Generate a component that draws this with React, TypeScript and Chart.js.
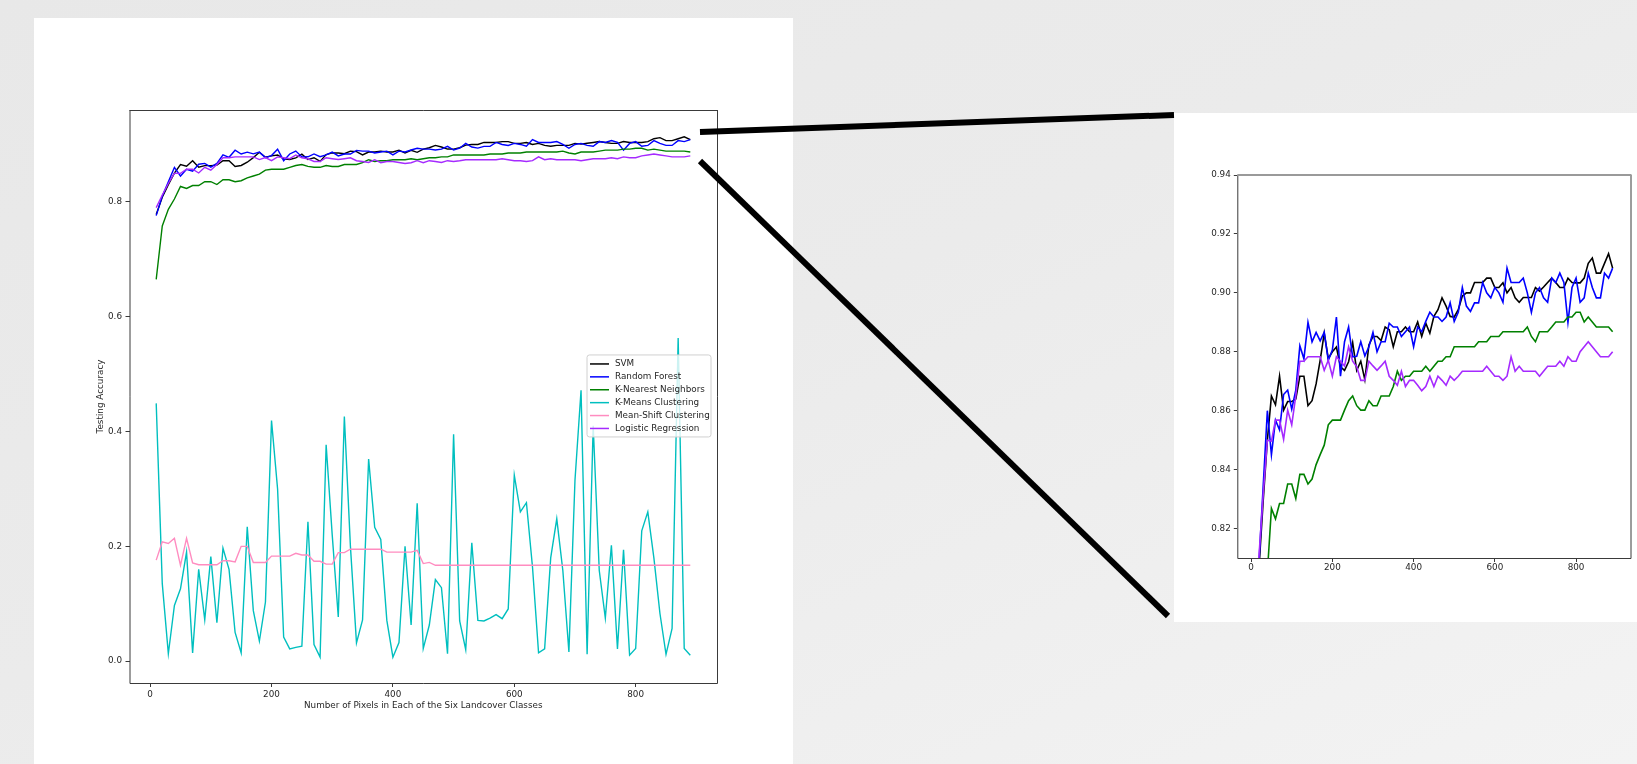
import React, { useEffect, useRef } from 'react';
import { Chart, registerables } from 'chart.js';

Chart.register(...registerables);

const pixelCounts = [
  10, 20, 30, 40, 50, 60, 70, 80, 90, 100, 110, 120, 130, 140, 150, 160, 170, 180, 190, 200,
  210, 220, 230, 240, 250, 260, 270, 280, 290, 300, 310, 320, 330, 340, 350, 360, 370, 380, 390, 400,
  410, 420, 430, 440, 450, 460, 470, 480, 490, 500, 510, 520, 530, 540, 550, 560, 570, 580, 590, 600,
  610, 620, 630, 640, 650, 660, 670, 680, 690, 700, 710, 720, 730, 740, 750, 760, 770, 780, 790, 800,
  810, 820, 830, 840, 850, 860, 870, 880, 890,
];

const svmAcc = [
  0.778, 0.808, 0.830, 0.850, 0.865, 0.862, 0.8717, 0.8602, 0.8631, 0.8631, 0.864, 0.8717, 0.8717, 0.8617, 0.8634, 0.8691, 0.8771, 0.8863, 0.8777, 0.880,
  0.8816, 0.8749, 0.8737, 0.8766, 0.8831, 0.8737, 0.8768, 0.8705, 0.8823, 0.8852, 0.8852, 0.8838, 0.8884, 0.8875, 0.8817, 0.8868, 0.8868, 0.8884, 0.8868, 0.8868,
  0.8901, 0.8852, 0.8897, 0.8863, 0.892, 0.8943, 0.8983, 0.8955, 0.892, 0.8918, 0.8943, 0.8989, 0.900, 0.900, 0.9035, 0.9035, 0.9035, 0.905, 0.905, 0.9018,
  0.9018, 0.9034, 0.900, 0.9018, 0.8983, 0.8968, 0.8984, 0.8984, 0.8984, 0.9018, 0.9006, 0.902, 0.9035, 0.905, 0.9035, 0.9018, 0.9018, 0.905, 0.9035, 0.9034,
  0.9034, 0.905, 0.910, 0.9118, 0.9067, 0.9067, 0.910, 0.9133, 0.9084,
];

const randomForestAcc = [
  0.776, 0.810, 0.835, 0.860, 0.845, 0.8568, 0.8535, 0.8655, 0.867, 0.8605, 0.867, 0.882, 0.8776, 0.890, 0.8834, 0.8866, 0.8837, 0.8866, 0.8771, 0.8806,
  0.8918, 0.8717, 0.8834, 0.8884, 0.8783, 0.8785, 0.8834, 0.8786, 0.8817, 0.8866, 0.880, 0.8834, 0.8834, 0.8897, 0.8884, 0.8884, 0.8852, 0.8868, 0.8884, 0.8817,
  0.8884, 0.8868, 0.8903, 0.8934, 0.8918, 0.8918, 0.8903, 0.8918, 0.8966, 0.8903, 0.8934, 0.9018, 0.8955, 0.8937, 0.8966, 0.8966, 0.9035, 0.900, 0.8983, 0.9018,
  0.900, 0.8968, 0.9084, 0.9035, 0.9035, 0.9035, 0.905, 0.900, 0.8934, 0.900, 0.9018, 0.8983, 0.8968, 0.905, 0.9035, 0.9067, 0.9035, 0.890, 0.9018, 0.905,
  0.8968, 0.8983, 0.9067, 0.9018, 0.8983, 0.8983, 0.9067, 0.905, 0.9084,
];

const knnAcc = [
  0.665, 0.758, 0.787, 0.805, 0.8268, 0.8233, 0.8285, 0.8285, 0.8351, 0.8351, 0.8302, 0.8384, 0.8384, 0.8351, 0.8368, 0.8417, 0.8451, 0.8483, 0.8552, 0.8568,
  0.8568, 0.8568, 0.8602, 0.8634, 0.865, 0.8617, 0.8602, 0.8602, 0.8634, 0.8617, 0.8617, 0.865, 0.865, 0.865, 0.8682, 0.8734, 0.8703, 0.8717, 0.8717, 0.8734,
  0.8734, 0.8734, 0.8751, 0.8734, 0.8751, 0.8768, 0.8768, 0.8783, 0.8783, 0.8817, 0.8817, 0.8817, 0.8817, 0.8817, 0.8817, 0.8834, 0.8834, 0.8834, 0.8852, 0.8852,
  0.8852, 0.8868, 0.8868, 0.8868, 0.8868, 0.8868, 0.8868, 0.8884, 0.8852, 0.8834, 0.8868, 0.8868, 0.8868, 0.8884, 0.8901, 0.8901, 0.8901, 0.8918, 0.8918, 0.8934,
  0.8934, 0.8901, 0.8918, 0.8901, 0.8884, 0.8884, 0.8884, 0.8884, 0.8868,
];

const kMeansAcc = [
  0.449, 0.135, 0.013, 0.097, 0.126, 0.190, 0.0145, 0.160, 0.072, 0.182, 0.067, 0.197, 0.160, 0.050, 0.0145, 0.234, 0.088, 0.035, 0.103, 0.419,
  0.300, 0.042, 0.0215, 0.024, 0.026, 0.243, 0.029, 0.007, 0.377, 0.220, 0.077, 0.426, 0.200, 0.032, 0.072, 0.352, 0.233, 0.212, 0.071, 0.007,
  0.0325, 0.200, 0.063, 0.275, 0.022, 0.063, 0.142, 0.128, 0.013, 0.395, 0.070, 0.020, 0.206, 0.071, 0.070, 0.075, 0.081, 0.074, 0.091, 0.324,
  0.260, 0.276, 0.164, 0.0145, 0.0215, 0.180, 0.248, 0.158, 0.016, 0.315, 0.472, 0.012, 0.410, 0.158, 0.075, 0.202, 0.0215, 0.194, 0.0105, 0.022,
  0.227, 0.260, 0.180, 0.083, 0.012, 0.057, 0.563, 0.022, 0.0105,
];

const meanShiftAcc = [
  0.176, 0.208, 0.205, 0.214, 0.167, 0.214, 0.171, 0.168, 0.168, 0.168, 0.168, 0.175, 0.175, 0.173, 0.200, 0.200, 0.172, 0.172, 0.172, 0.183,
  0.183, 0.183, 0.183, 0.188, 0.185, 0.185, 0.174, 0.174, 0.169, 0.169, 0.189, 0.189, 0.195, 0.195, 0.195, 0.195, 0.195, 0.195, 0.190, 0.190,
  0.190, 0.190, 0.190, 0.193, 0.170, 0.172, 0.167, 0.167, 0.167, 0.167, 0.167, 0.167, 0.167, 0.167, 0.167, 0.167, 0.167, 0.167, 0.167, 0.167,
  0.167, 0.167, 0.167, 0.167, 0.167, 0.167, 0.167, 0.167, 0.167, 0.167, 0.167, 0.167, 0.167, 0.167, 0.167, 0.167, 0.167, 0.167, 0.167, 0.167,
  0.167, 0.167, 0.167, 0.167, 0.167, 0.167, 0.167, 0.167, 0.167,
];

const logisticAcc = [
  0.790, 0.812, 0.832, 0.850, 0.8497, 0.8568, 0.8568, 0.8503, 0.8602, 0.8552, 0.865, 0.8768, 0.8768, 0.8783, 0.8783, 0.8783, 0.8783, 0.8737, 0.8771, 0.8717,
  0.8783, 0.8768, 0.8752, 0.8817, 0.8768, 0.8749, 0.8703, 0.8703, 0.8768, 0.8752, 0.8737, 0.8752, 0.8768, 0.8717, 0.8703, 0.8686, 0.8734, 0.8682, 0.8703, 0.8703,
  0.8686, 0.8668, 0.8682, 0.8717, 0.8682, 0.8717, 0.8703, 0.8686, 0.8717, 0.8703, 0.8717, 0.8734, 0.8734, 0.8734, 0.8734, 0.8734, 0.8734, 0.8751, 0.8734, 0.8717,
  0.8717, 0.8703, 0.8717, 0.8783, 0.8734, 0.8751, 0.8734, 0.8734, 0.8734, 0.8734, 0.8717, 0.8734, 0.8751, 0.8751, 0.8751, 0.8768, 0.8751, 0.8783, 0.8768, 0.8768,
  0.880, 0.8817, 0.8834, 0.8817, 0.880, 0.8783, 0.8783, 0.8783, 0.880,
];

const seriesNames = [
  'SVM',
  'Random Forest',
  'K-Nearest Neighbors',
  'K-Means Clustering',
  'Mean-Shift Clustering',
  'Logistic Regression',
];
const seriesValues = [svmAcc, randomForestAcc, knnAcc, kMeansAcc, meanShiftAcc, logisticAcc];
const seriesColors = ['#000000', '#0000ff', '#008000', '#00bfbf', '#ff8cc0', '#a52aff'];
const insetSeriesIndex = [0, 1, 2, 5];

const xTicks = [0, 200, 400, 600, 800];
const mainYTicks = [0.0, 0.2, 0.4, 0.6, 0.8];
const insetYTicks = [0.82, 0.84, 0.86, 0.88, 0.9, 0.92, 0.94];

const xLabel = 'Number of Pixels in Each of the Six Landcover Classes';
const yLabel = 'Testing Accuracy';

const FONT_FAMILY = '"DejaVu Sans", sans-serif';
const TEXT_COLOR = '#262626';
const FONT = { family: FONT_FAMILY, size: 8.8 };

function makeDataset(i: number, width: number) {
  return {
    label: seriesNames[i],
    data: pixelCounts.map((x, k) => ({ x, y: seriesValues[i][k] })),
    borderColor: seriesColors[i],
    backgroundColor: seriesColors[i],
    borderWidth: width,
    pointRadius: 0,
    tension: 0,
    fill: false,
    order: 10 - i,
  };
}

const framePlugin = (topColor: string, topWidth: number) => ({
  id: 'frame',
  afterDatasetsDraw(chart: any) {
    const { ctx, chartArea } = chart;
    const { left, right, top, bottom } = chartArea;
    ctx.save();
    ctx.strokeStyle = '#3a3a3a';
    ctx.lineWidth = 1;
    ctx.beginPath();
    ctx.moveTo(left + 0.5, top);
    ctx.lineTo(left + 0.5, bottom + 0.5);
    ctx.lineTo(right + 0.5, bottom + 0.5);
    ctx.lineTo(right + 0.5, top);
    ctx.stroke();
    ctx.strokeStyle = topColor;
    ctx.lineWidth = topWidth;
    ctx.beginPath();
    ctx.moveTo(left, top + (topWidth === 1 ? 0.5 : 0));
    ctx.lineTo(right + 1, top + (topWidth === 1 ? 0.5 : 0));
    ctx.stroke();
    ctx.restore();
  },
});

const legendPlugin = {
  id: 'boxLegend',
  afterDraw(chart: any) {
    const { ctx, chartArea } = chart;
    const w = 124;
    const h = 82;
    const x0 = chartArea.right - 6 - w;
    const y0 = chartArea.top + (chartArea.bottom - chartArea.top) * 0.4275;
    ctx.save();
    ctx.beginPath();
    const r = 2.5;
    ctx.moveTo(x0 + r, y0);
    ctx.lineTo(x0 + w - r, y0);
    ctx.quadraticCurveTo(x0 + w, y0, x0 + w, y0 + r);
    ctx.lineTo(x0 + w, y0 + h - r);
    ctx.quadraticCurveTo(x0 + w, y0 + h, x0 + w - r, y0 + h);
    ctx.lineTo(x0 + r, y0 + h);
    ctx.quadraticCurveTo(x0, y0 + h, x0, y0 + h - r);
    ctx.lineTo(x0, y0 + r);
    ctx.quadraticCurveTo(x0, y0, x0 + r, y0);
    ctx.closePath();
    ctx.fillStyle = 'rgba(255,255,255,0.8)';
    ctx.fill();
    ctx.strokeStyle = '#d0d0d0';
    ctx.lineWidth = 1;
    ctx.stroke();
    ctx.font = `8.8px ${FONT_FAMILY}`;
    ctx.textBaseline = 'middle';
    ctx.textAlign = 'left';
    chart.data.datasets.forEach((ds: any, i: number) => {
      const cy = y0 + 9 + i * 12.9;
      ctx.strokeStyle = ds.borderColor;
      ctx.lineWidth = 1.5;
      ctx.beginPath();
      ctx.moveTo(x0 + 3, cy);
      ctx.lineTo(x0 + 22, cy);
      ctx.stroke();
      ctx.fillStyle = TEXT_COLOR;
      ctx.fillText(ds.label, x0 + 28, cy);
    });
    ctx.restore();
  },
};

function MainChart() {
  const ref = useRef<HTMLCanvasElement | null>(null);
  useEffect(() => {
    if (!ref.current) return;
    const chart = new Chart(ref.current, {
      type: 'line',
      data: { datasets: seriesNames.map((_, i) => makeDataset(i, 1.4)) as any },
      options: {
        responsive: false,
        animation: false,
        layout: { padding: { left: 58, top: 92, right: 76, bottom: 50 } },
        plugins: { legend: { display: false }, tooltip: { enabled: false } },
        scales: {
          x: {
            type: 'linear',
            min: -34,
            max: 934,
            afterBuildTicks: (s: any) => {
              s.ticks = xTicks.map((v) => ({ value: v }));
            },
            afterFit: (s: any) => {
              s.height = 31;
            },
            ticks: {
              font: FONT,
              color: TEXT_COLOR,
              padding: 2,
              maxRotation: 0,
              autoSkip: false,
              callback: (v: any) => String(v),
            },
            grid: { drawOnChartArea: false, drawTicks: true, tickLength: 4, color: '#3a3a3a' },
            border: { display: false },
            title: {
              display: true,
              text: xLabel,
              font: FONT,
              color: TEXT_COLOR,
              padding: { top: 0, bottom: 3.2 },
            },
          },
          y: {
            type: 'linear',
            min: -0.038,
            max: 0.96,
            afterBuildTicks: (s: any) => {
              s.ticks = mainYTicks.map((v) => ({ value: v }));
            },
            afterFit: (s: any) => {
              s.width = 37.5;
            },
            ticks: {
              font: FONT,
              color: TEXT_COLOR,
              padding: 3.5,
              autoSkip: false,
              callback: (v: any) => Number(v).toFixed(1),
            },
            grid: { drawOnChartArea: false, drawTicks: true, tickLength: 4, color: '#3a3a3a' },
            border: { display: false },
            title: {
              display: true,
              text: yLabel,
              font: FONT,
              color: TEXT_COLOR,
              padding: { top: 3.7, bottom: 0 },
            },
          },
        },
      },
      plugins: [framePlugin('#3a3a3a', 1), legendPlugin],
    } as any);
    return () => chart.destroy();
  }, []);
  return <canvas ref={ref} width={759} height={746} style={{ display: 'block' }} />;
}

function InsetChart() {
  const ref = useRef<HTMLCanvasElement | null>(null);
  useEffect(() => {
    if (!ref.current) return;
    const chart = new Chart(ref.current, {
      type: 'line',
      data: { datasets: insetSeriesIndex.map((i) => makeDataset(i, 1.6)) as any },
      options: {
        responsive: false,
        animation: false,
        layout: { padding: { left: 0, top: 62, right: 6.5, bottom: 44 } },
        plugins: { legend: { display: false }, tooltip: { enabled: false } },
        scales: {
          x: {
            type: 'linear',
            min: -34,
            max: 934,
            afterBuildTicks: (s: any) => {
              s.ticks = xTicks.map((v) => ({ value: v }));
            },
            afterFit: (s: any) => {
              s.height = 20;
            },
            ticks: {
              font: FONT,
              color: TEXT_COLOR,
              padding: 0,
              maxRotation: 0,
              autoSkip: false,
              callback: (v: any) => String(v),
            },
            grid: { drawOnChartArea: false, drawTicks: true, tickLength: 4, color: '#3a3a3a' },
            border: { display: false },
          },
          y: {
            type: 'linear',
            min: 0.81,
            max: 0.94,
            afterBuildTicks: (s: any) => {
              s.ticks = insetYTicks.map((v) => ({ value: v }));
            },
            afterFit: (s: any) => {
              s.width = 63.3;
            },
            ticks: {
              font: FONT,
              color: TEXT_COLOR,
              padding: 3,
              autoSkip: false,
              callback: (v: any) => Number(v).toFixed(2),
            },
            grid: { drawOnChartArea: false, drawTicks: true, tickLength: 3.5, color: '#3a3a3a' },
            border: { display: false },
          },
        },
      },
      plugins: [framePlugin('#9a9a9a', 2)],
    } as any);
    return () => chart.destroy();
  }, []);
  return <canvas ref={ref} width={463} height={509} style={{ display: 'block' }} />;
}

export default function App() {
  return (
    <div
      style={{
        position: 'fixed',
        left: 0,
        top: 0,
        width: 1637,
        height: 764,
        overflow: 'hidden',
        background: 'linear-gradient(155deg, #e8e8e8 0%, #ebebeb 45%, #f3f3f3 100%)',
      }}
    >
      <div style={{ position: 'absolute', left: 34, top: 18, width: 759, height: 746, background: '#ffffff' }}>
        <MainChart />
      </div>
      <div style={{ position: 'absolute', left: 1174, top: 113, width: 463, height: 509, background: '#ffffff' }}>
        <InsetChart />
      </div>
      <svg
        width={1637}
        height={764}
        style={{ position: 'absolute', left: 0, top: 0, pointerEvents: 'none' }}
      >
        <line x1={700} y1={132} x2={1174} y2={115} stroke="#000" strokeWidth={6} />
        <line x1={700} y1={161} x2={1168} y2={616} stroke="#000" strokeWidth={6} />
      </svg>
    </div>
  );
}
